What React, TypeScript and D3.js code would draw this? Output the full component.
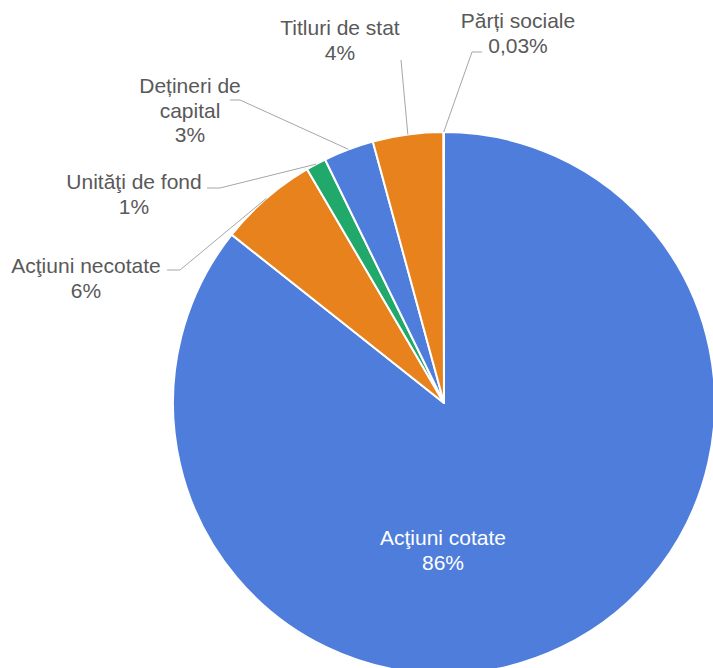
import React from "react";
import * as d3 from "d3";

const categories = ["Acţiuni cotate", "Acţiuni necotate", "Unităţi de fond", "Dețineri de capital", "Titluri de stat", "Părți sociale"];
const values = [85.67, 5.9, 1.2, 3.0, 4.2, 0.03];
const percentLabels = ["86%", "6%", "1%", "3%", "4%", "0,03%"];
const labelLines = [["Acţiuni cotate"], ["Acţiuni necotate"], ["Unităţi de fond"], ["Dețineri de", "capital"], ["Titluri de stat"], ["Părți sociale"]];
const colors = ["#4E7DDB", "#E8821C", "#21A86B", "#4E7DDB", "#E8821C", "#4E7DDB"];

// layout: label anchor (center x, first baseline), leader elbow start/end
const labelLayout = [
  { x: 443, y: 545, inside: true },
  { x: 86, y: 273, lead: [[167, 270], [180, 270]] },
  { x: 134, y: 189, lead: [[207, 188], [220, 188]] },
  { x: 190, y: 93, lead: [[230, 100], [240, 100]] },
  { x: 340, y: 35, lead: [[401, 60]] },
  { x: 518, y: 28, lead: [[482, 52], [472, 52]] },
];

const W = 713, H = 668;
const cx = 444, cy = 403, R = 271;

export default function App() {
  const pie = d3.pie<number>().sort(null).value((d) => d)(values);
  const arc = d3.arc<d3.PieArcDatum<number>>().innerRadius(0).outerRadius(R);
  const font = "'Liberation Sans', Arial, sans-serif";
  return (
    <svg width={W} height={H} style={{ position: "absolute", left: 0, top: 0 }}>
      <g transform={`translate(${cx},${cy})`}>
        {pie.map((p, i) => (
          <path key={i} d={arc(p) || ""} fill={colors[i]} stroke="#fff" strokeWidth={2} strokeLinejoin="round" />
        ))}
      </g>
      {pie.map((p, i) => {
        const L = labelLayout[i];
        if (!L.lead) return null;
        const mid = (p.startAngle + p.endAngle) / 2;
        const ex = cx + R * Math.sin(mid);
        const ey = cy - R * Math.cos(mid);
        const pts = [...L.lead, [ex, ey]];
        return (
          <polyline key={"l" + i} points={pts.map((q) => q.join(",")).join(" ")} fill="none" stroke="#A6A6A6" strokeWidth={1} />
        );
      })}
      {pie.map((p, i) => {
        const L = labelLayout[i];
        const lines = [...labelLines[i], percentLabels[i]];
        return (
          <text key={"t" + i} x={L.x} y={L.y} textAnchor="middle" fontFamily={font} fontSize={21} fill={L.inside ? "#fff" : "#595959"}>
            {lines.map((s, j) => (
              <tspan key={j} x={L.x} dy={j === 0 ? 0 : 24.5}>{s}</tspan>
            ))}
          </text>
        );
      })}
    </svg>
  );
}
